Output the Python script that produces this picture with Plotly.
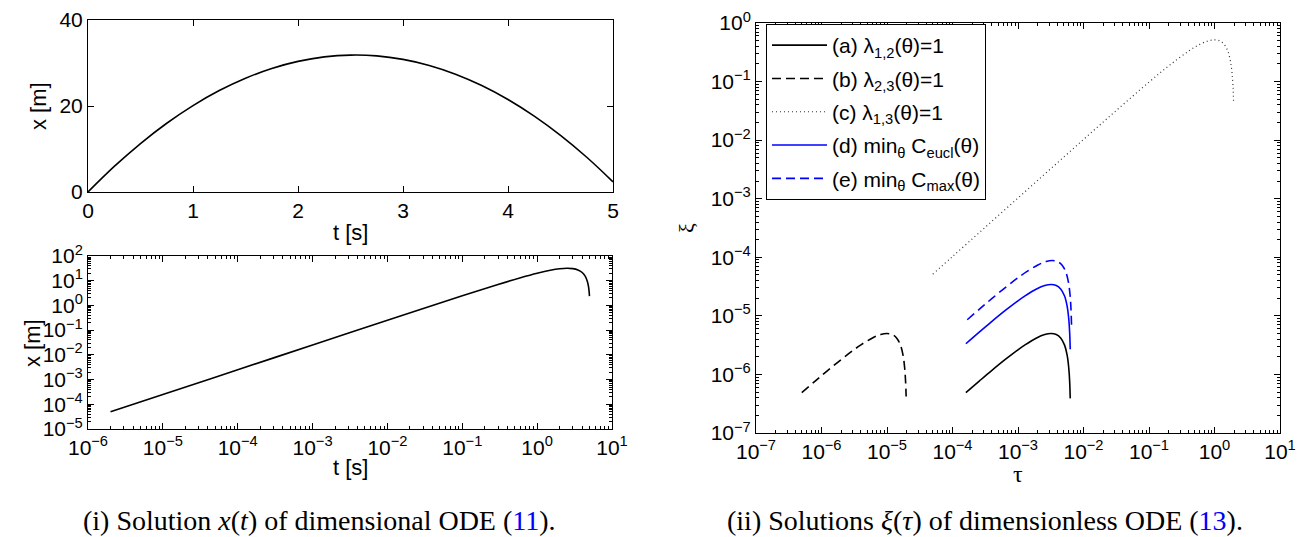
import plotly.graph_objects as go

# ---------------- data ----------------
# (i) top: x(t) linear axes
t_lin = [0, 0.25, 0.5, 0.75, 1.0, 1.25, 1.5, 1.75, 2.0, 2.25, 2.5, 2.75,
         3.0, 3.25, 3.5, 3.75, 4.0, 4.25, 4.5, 4.75, 5.0]
x_lin = [0, 5.94, 11.27, 15.99, 20.10, 23.59, 26.46, 28.73, 30.38, 31.42, 31.84,
         31.66, 30.85, 29.44, 27.41, 24.77, 21.52, 17.65, 13.17, 8.08, 2.37]

# (i) bottom: x(t) log-log axes
t_log = [2e-6, 1e-5, 1e-4, 1e-3, 1e-2, 0.1, 0.3, 0.6, 1.0, 1.5, 2.0, 2.5,
         3.0, 3.5, 4.0, 4.4, 4.7, 4.85, 4.95, 5.0]
x_log = [5.0e-5, 2.5e-4, 2.5e-3, 0.025, 0.2495, 2.451, 7.059, 13.23, 20.10,
         26.46, 30.38, 31.84, 30.85, 27.41, 21.52, 15.04, 9.15, 5.87, 3.56, 2.37]

# (ii) curves
tau_a = [1.6e-4, 2.56e-4, 3.84e-4, 6.4e-4, 9.6e-4, 1.28e-3, 1.92e-3, 2.56e-3, 3.2e-3,
         3.84e-3, 4.48e-3, 5.12e-3, 5.632e-3, 5.952e-3, 6.144e-3, 6.272e-3]
xi_a = [4.9e-7, 7.7e-7, 1.13e-6, 1.8e-6, 2.55e-6, 3.2e-6, 4.2e-6, 4.8e-6, 5.0e-6,
        4.8e-6, 4.2e-6, 3.2e-6, 2.11e-6, 1.30e-6, 7.7e-7, 3.9e-7]

tau_b = [5e-7, 8e-7, 1.2e-6, 2e-6, 3e-6, 4e-6, 6e-6, 8e-6, 1e-5, 1.2e-5, 1.4e-5,
         1.6e-5, 1.76e-5, 1.86e-5, 1.92e-5, 1.96e-5]
xi_b = [4.9e-7, 7.7e-7, 1.13e-6, 1.8e-6, 2.55e-6, 3.2e-6, 4.2e-6, 4.8e-6, 5.0e-6,
        4.8e-6, 4.2e-6, 3.2e-6, 2.11e-6, 1.30e-6, 7.7e-7, 4.2e-7]

tau_c = [5e-5, 1e-4, 3e-4, 1e-3, 3e-3, 1e-2, 3e-2, 0.1, 0.2, 0.4, 0.6, 0.8, 1.0,
         1.2, 1.4, 1.6, 1.76, 1.86, 1.92, 1.955]
xi_c = [5.15e-5, 1.03e-4, 3.09e-4, 1.029e-3, 3.085e-3, 1.025e-2, 3.044e-2, 0.0979,
        0.1854, 0.3296, 0.4326, 0.4944, 0.515, 0.4944, 0.4326, 0.3296, 0.2175,
        0.1341, 0.0791, 0.0453]

tau_d = tau_a
xi_d = [3.34e-6, 5.27e-6, 7.74e-6, 1.235e-5, 1.75e-5, 2.2e-5, 2.88e-5, 3.29e-5, 3.43e-5,
        3.29e-5, 2.88e-5, 2.2e-5, 1.45e-5, 8.93e-6, 5.27e-6, 2.69e-6]

tau_e = [1.68e-4, 2.68e-4, 4.02e-4, 6.7e-4, 1.005e-3, 1.34e-3, 2.01e-3, 2.68e-3, 3.35e-3,
         4.02e-3, 4.69e-3, 5.36e-3, 5.896e-3, 6.231e-3, 6.432e-3, 6.566e-3]
xi_e = [8.58e-6, 1.352e-5, 1.985e-5, 3.17e-5, 4.49e-5, 5.63e-5, 7.39e-5, 8.45e-5, 8.8e-5,
        8.45e-5, 7.39e-5, 5.63e-5, 3.72e-5, 2.29e-5, 1.35e-5, 6.9e-6]

legend_names = ["(a) λ<sub>1,2</sub>(θ)=1", "(b) λ<sub>2,3</sub>(θ)=1", "(c) λ<sub>1,3</sub>(θ)=1",
                "(d) min<sub>θ</sub> C<sub>eucl</sub>(θ)", "(e) min<sub>θ</sub> C<sub>max</sub>(θ)"]

# tick values / labels
lin_x_ticks = [0, 1, 2, 3, 4, 5]
lin_y_ticks = [0, 20, 40]
exp_b_x = [-6, -5, -4, -3, -2, -1, 0, 1]
exp_b_y = [-5, -4, -3, -2, -1, 0, 1, 2]
exp_r_x = [-7, -6, -5, -4, -3, -2, -1, 0, 1]
exp_r_y = [-7, -6, -5, -4, -3, -2, -1, 0]

# ---------------- figure ----------------
W, H = 1304, 537
def px(x): return x / W
def py(y): return 1 - y / H

SANS = "Liberation Sans, Arial, sans-serif"
SERIF = "Liberation Serif, Times New Roman, serif"

def pw(e):
    return "10<sup>%s</sup>" % (str(e).replace("-", "\u2212"))

fig = go.Figure()
fig.add_trace(go.Scatter(x=t_lin, y=x_lin, mode="lines", line=dict(color="black", width=1.6),
                         line_shape="spline", xaxis="x", yaxis="y", showlegend=False))
fig.add_trace(go.Scatter(x=t_log, y=x_log, mode="lines", line=dict(color="black", width=1.6),
                         line_shape="spline", xaxis="x2", yaxis="y2", showlegend=False))

styles = [
    (tau_a, xi_a, dict(color="black", width=1.6, dash="solid")),
    (tau_b, xi_b, dict(color="black", width=1.6, dash="9px,5px")),
    (tau_c, xi_c, dict(color="#333333", width=1.2, dash="1px,3px")),
    (tau_d, xi_d, dict(color="#0000ff", width=1.6, dash="solid")),
    (tau_e, xi_e, dict(color="#0000ff", width=1.6, dash="9px,5px")),
]
for i, ((tx, ty, ln), name) in enumerate(zip(styles, legend_names)):
    fig.add_trace(go.Scatter(x=tx, y=ty, mode="lines", line=ln, name=name,
                             legendgroup="g%d" % i,
                             xaxis="x3", yaxis="y3", line_shape="spline"))

common = dict(showline=True, linecolor="black", linewidth=1, mirror="ticks",
              ticks="inside", tickcolor="black", ticklen=6, showgrid=False, zeroline=False,
              automargin=False, ticklabeloverflow="allow",
              tickfont=dict(family=SANS, size=21, color="black"))
minor = dict(ticks="inside", ticklen=3, tickcolor="black", dtick="D1", showgrid=False)

fig.update_layout(
    width=W, height=H, margin=dict(l=0, r=0, t=0, b=0, autoexpand=False),
    paper_bgcolor="white", plot_bgcolor="white",
    xaxis=dict(domain=[px(80), px(605)], range=[0, 5], anchor="y",
               tickmode="array", tickvals=lin_x_ticks, **common),
    yaxis=dict(domain=[py(184), py(12)], range=[0, 40], anchor="x",
               tickmode="array", tickvals=lin_y_ticks, **common),
    xaxis2=dict(domain=[px(80), px(604)], type="log", range=[-6, 1], anchor="y2",
                tickmode="array", tickvals=[10.0 ** e for e in exp_b_x],
                ticktext=[pw(e) for e in exp_b_x], minor=minor, **common),
    yaxis2=dict(domain=[py(421), py(248)], type="log", range=[-5, 2], anchor="x2",
                tickmode="array", tickvals=[10.0 ** e for e in exp_b_y],
                ticktext=[pw(e) for e in exp_b_y], minor=minor, **common),
    xaxis3=dict(domain=[px(748), px(1272)], type="log", range=[-7, 1], anchor="y3",
                tickmode="array", tickvals=[10.0 ** e for e in exp_r_x],
                ticktext=[pw(e) for e in exp_r_x], minor=minor, **common),
    yaxis3=dict(domain=[py(425), py(15)], type="log", range=[-7, 0], anchor="x3",
                tickmode="array", tickvals=[10.0 ** e for e in exp_r_y],
                ticktext=[pw(e) for e in exp_r_y], minor=minor, **common),
    legend=dict(x=px(758), y=py(16), xanchor="left", yanchor="top",
                bordercolor="black", borderwidth=1, bgcolor="white",
                font=dict(family=SANS, size=21, color="black"),
                itemwidth=55, tracegroupgap=3),
)

ann = [
    dict(text="x [m]", x=px(30), y=py(98), textangle=-90, font=dict(family=SANS, size=22)),
    dict(text="t [s]", x=px(342), y=py(224), font=dict(family=SANS, size=22)),
    dict(text="x [m]", x=px(24), y=py(335), textangle=-90, font=dict(family=SANS, size=22)),
    dict(text="t [s]", x=px(342), y=py(459), font=dict(family=SANS, size=22)),
    dict(text="ξ", x=px(678), y=py(220), textangle=-90, font=dict(family=SERIF, size=22)),
    dict(text="τ", x=px(1010), y=py(466), font=dict(family=SERIF, size=24)),
    dict(text="(i) Solution <i>x</i>(<i>t</i>) of dimensional ODE (<span style='color:#0000ff'>11</span>).",
         x=px(311), y=py(512), font=dict(family=SERIF, size=28)),
    dict(text="(ii) Solutions <i>ξ</i>(<i>τ</i>) of dimensionless ODE (<span style='color:#0000ff'>13</span>).",
         x=px(977), y=py(512), font=dict(family=SERIF, size=28)),
]
for a in ann:
    a.update(xref="paper", yref="paper", showarrow=False, xanchor="center", yanchor="middle")
    a["font"]["color"] = "black"
fig.update_layout(annotations=ann)

fig.write_html("out.html")
